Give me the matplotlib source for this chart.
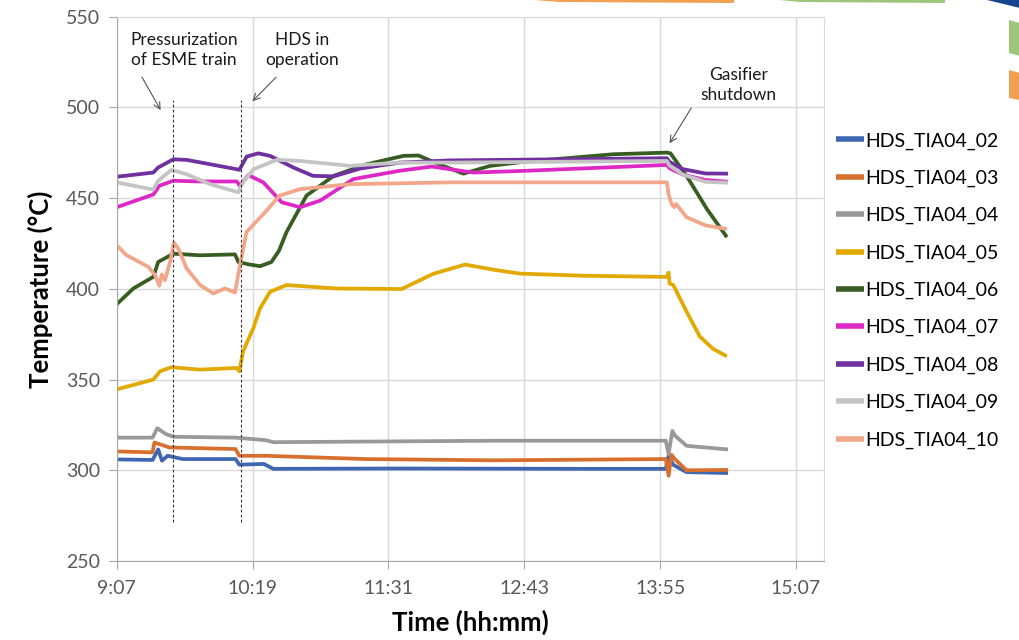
import matplotlib
matplotlib.use("Agg")
import matplotlib.pyplot as plt
from matplotlib.patches import Polygon

plt.rcParams['font.family'] = ['Lato', 'DejaVu Sans']

# time axis: minutes after 09:07
tick_minutes = [0, 72, 144, 216, 288, 360]
tick_labels = ['9:07', '10:19', '11:31', '12:43', '13:55', '15:07']

names = ['HDS_TIA04_02', 'HDS_TIA04_03', 'HDS_TIA04_04', 'HDS_TIA04_05', 'HDS_TIA04_06',
         'HDS_TIA04_07', 'HDS_TIA04_08', 'HDS_TIA04_09', 'HDS_TIA04_10']
colors = ['#3F67B1', '#D7702E', '#999999', '#E2AA00', '#385D22',
          '#DE28C6', '#7030A0', '#C4C4C4', '#F2A68A']

t02 = [0, 19, 22, 24, 27, 35, 63, 65, 78, 83, 150, 250, 291, 292.5, 295, 302, 324]
v02 = [306, 305.7, 311.5, 305.3, 308, 306.2, 306.2, 303.1, 303.5, 300.8, 301, 300.8, 300.8, 308, 303, 299, 298.5]

t03 = [0, 19, 20, 28, 63, 65, 79, 132, 200, 291, 292.5, 294, 296, 302, 324]
v03 = [310.4, 309.9, 315.3, 312.6, 311.7, 308, 308, 306.2, 305.5, 306.2, 297, 308.6, 306, 300, 300.2]

t04 = [0, 19, 21.5, 26, 30, 63, 79, 83, 200, 291, 292.5, 294.5, 296, 302, 324]
v04 = [318, 318, 323.2, 320, 318.5, 318, 316.6, 315.5, 316.3, 316.3, 309, 321.7, 319, 313.5, 311.5]

t05 = [0, 19.4, 23, 29, 44, 63.6, 65, 67, 72.4, 76, 81.3, 90, 116.6, 151, 168, 184.7, 200, 213.8,
       249, 291.6, 292.5, 293, 295, 302, 309, 316, 323.4]
v05 = [344.6, 350, 354.6, 356.8, 355.5, 356.4, 354.6, 365.6, 378.3, 389.3, 398.4, 402.1, 400.2, 399.9,
       408.4, 413.4, 410.5, 408.4, 407.2, 406.6, 409, 403, 402.1, 387.5, 373.8, 367, 362.8]

t06 = [0, 8.8, 19.4, 22, 30, 44, 62.7, 64.5, 70, 76, 82, 86, 90, 100.6, 115, 132.6, 152, 160,
       170, 183.8, 198, 215.6, 263.3, 291.6, 293.5, 302, 312.8, 323.4]
v06 = [391.5, 400.2, 406.6, 414.8, 419.4, 418.5, 419, 414.8, 413.5, 412.5, 414.8, 421, 431.3, 451.4,
       462.3, 468.7, 473.3, 473.5, 469, 463.5, 467.8, 470, 474.2, 475.1, 474.7, 462.3, 444, 428.5]

t07 = [0, 19.4, 22.6, 30, 44, 63.6, 65.3, 69.8, 77.7, 87.5, 97.2, 107.8, 125.4, 150, 167, 189,
       215, 291.6, 293, 300, 312, 324]
v07 = [445, 452, 456.8, 459.6, 459.2, 459.2, 456.8, 462.7, 458.7, 447.7, 445, 448.6, 460.5, 465.1,
       467.4, 464.1, 465, 468.3, 466.5, 463, 460, 459]

t08 = [0, 19.4, 22, 30, 37, 61.8, 65, 68.9, 75, 81.3, 93.6, 104, 115, 129, 150, 176.7, 291.6,
       293, 300, 312, 324]
v08 = [461.8, 464.1, 466.9, 471.4, 471.1, 466.3, 465.6, 472.9, 474.7, 473.3, 466.9, 462.3, 462,
       466.3, 469.6, 470.8, 472, 470, 466, 463.6, 463.5]

t09 = [0, 19.4, 22, 29, 37, 49.5, 64.5, 66.3, 72.4, 84.8, 97.2, 123.7, 150, 176.7, 291.6, 293,
       300, 312, 324]
v09 = [458.7, 454.7, 459.6, 465.6, 463.2, 457.7, 453.2, 457.7, 465.9, 471.1, 470.5, 467.8, 469.6,
       469.6, 470.5, 468, 463, 459, 458.5]

t10 = [0, 5.3, 16.8, 20.3, 22.6, 23.9, 25.6, 28.3, 30.4, 32.7, 37.1, 44.2, 51.2, 57.4, 62.7, 65,
       68.8, 79.5, 86.4, 97.2, 123.7, 176.7, 291.6, 292.5, 294, 295.5, 296.5, 302, 312, 323.4]
v10 = [424, 418.5, 412.1, 407.6, 401.7, 407.9, 404.8, 414.8, 425.4, 422.1, 411.2, 402.1, 397.5,
       400.2, 398, 411.2, 431.3, 443.2, 451.4, 455, 457.7, 458.7, 458.7, 452, 447, 445, 446.8,
       439.5, 435, 433]

times = [t02, t03, t04, t05, t06, t07, t08, t09, t10]
values = [v02, v03, v04, v05, v06, v07, v08, v09, v10]

# event markers (dotted verticals) and notes
event_minutes = [30, 66]
event_span = (271.5, 504.3)
notes = ['Pressurization\nof ESME train', 'HDS in\noperation', 'Gasifier\nshutdown']
note_xy = [(35.7, 531.8), (98.3, 531.8), (329.4, 512.6)]
arrow_from = [(13.4, 516.7), (84.5, 516.7), (304.5, 499.7)]
arrow_to = [(23.3, 498.5), (71.9, 503.4), (293.0, 480.2)]

fig = plt.figure(figsize=(10.2, 6.4), dpi=100)
ax = fig.add_axes([0.1144, 0.1234, 0.6937, 0.8505])

for t, v, c, n in zip(times, values, colors, names):
    ax.plot(t, v, color=c, lw=2.7, label=n, solid_capstyle='butt')

for m in event_minutes:
    ax.vlines(m, *event_span, colors='#333333', linestyles=(0, (2.5, 2)), lw=0.8)

for txt, xy, a0, a1 in zip(notes, note_xy, arrow_from, arrow_to):
    ax.text(xy[0], xy[1], txt, ha='center', va='center', fontsize=12.5,
            color='#1a1a1a', linespacing=1.3)
    ax.annotate('', xy=a1, xytext=a0,
                arrowprops=dict(arrowstyle='->', color='#555555', lw=0.8,
                                shrinkA=0, shrinkB=0, mutation_scale=12))

ax.set_xlim(0, 375)
ax.set_ylim(250, 550)
ax.set_xticks(tick_minutes)
ax.set_xticklabels(tick_labels)
ax.set_yticks(range(250, 551, 50))
ax.grid(True, color='#D9D9D9', lw=1)
ax.set_axisbelow(True)
ax.tick_params(axis='both', direction='out', length=6, color='#A6A6A6',
               labelcolor='#595959', labelsize=14)
ax.tick_params(axis='x', pad=8)
ax.tick_params(axis='y', pad=6)
for s in ['left', 'bottom']:
    ax.spines[s].set_color('#A6A6A6')
for s in ['top', 'right']:
    ax.spines[s].set_color('#D9D9D9')

ax.set_xlabel('Time (hh:mm)', fontsize=18.5, fontweight='bold', labelpad=9)
ax.set_ylabel('Temperature (°C)', fontsize=18.5, fontweight='bold', labelpad=9)

leg = ax.legend(loc='upper left', bbox_to_anchor=(1.005, 0.802), frameon=False,
                fontsize=14, handlelength=1.45, handletextpad=0.1, labelspacing=1.035,
                borderaxespad=0)
for h in leg.get_lines():
    h.set_linewidth(4)

# slide corner ornaments
W, H = 1020, 640
def px(pts):
    return [(x / W, 1 - y / H) for x, y in pts]

ornaments = [
    ([(534, 0), (734, 0), (734, 3), (560, 2)], '#F0A050'),
    ([(779, 0), (945, 0), (945, 3), (800, 2)], '#9DC67A'),
    ([(987, 0), (1020, 0), (1020, 8)], '#17468F'),
    ([(1009, 20), (1020, 23), (1020, 56), (1009, 53)], '#9DC67A'),
    ([(1009, 70), (1020, 73), (1020, 100), (1009, 98)], '#F0A050'),
]
for pts, c in ornaments:
    fig.patches.append(Polygon(px(pts), closed=True, transform=fig.transFigure,
                               facecolor=c, edgecolor='none'))

fig.savefig('out.png', dpi=100)
